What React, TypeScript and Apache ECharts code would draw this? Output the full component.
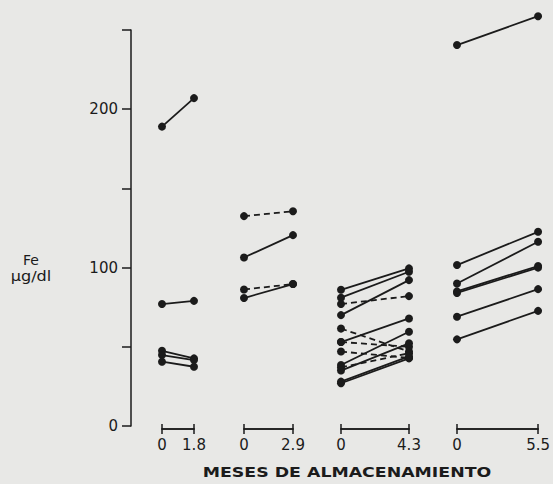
import React, { useEffect, useRef } from "react";
import * as echarts from "echarts";

// Storage months for each group (x-axis bracket end values)
const months = [1.8, 2.9, 4.3, 5.5];

// Serum iron (µg/dl) at month 0 and at end of storage, per group
const g1Before = [189, 77, 47.5, 44.8, 40.6];
const g1After = [207, 79, 42.7, 41.6, 37.4];
const g1Dashed = [false, false, false, false, false];

const g2Before = [132.5, 106.4, 86.2, 80.8];
const g2After = [135.6, 120.5, 89.6, 89.6];
const g2Dashed = [true, false, true, false];

const g3Before = [86, 81, 77, 70, 61.5, 53, 53, 47, 38.5, 37, 35, 27, 28];
const g3After = [99.5, 97.4, 82, 92.1, 47, 67.9, 50, 43, 59.5, 45.9, 52.2, 42.7, 44];
const g3Dashed = [false, false, true, false, true, false, true, true, false, true, false, false, false];

const g4Before = [240.5, 101.6, 90, 85, 84, 69, 54.7];
const g4After = [258.7, 122.6, 116.3, 101, 100, 86.4, 72.7];
const g4Dashed = [false, false, false, false, false, false, false];

const yTicks = [0, 100, 200];

const groups = [
  { before: g1Before, after: g1After, dashed: g1Dashed },
  { before: g2Before, after: g2After, dashed: g2Dashed },
  { before: g3Before, after: g3After, dashed: g3Dashed },
  { before: g4Before, after: g4After, dashed: g4Dashed },
];

const INK = "#1b1b1b";
const FONT = "DejaVu Sans";
const GRID_X = [
  [162, 194],
  [244, 293],
  [341, 409],
  [457, 541],
];
const TOP = 30;
const ZERO_Y = 426;
const Y_AXIS_X = 131;

export default function App() {
  const ref = useRef<HTMLDivElement>(null);

  useEffect(() => {
    if (!ref.current) return;
    const chart = echarts.init(ref.current, undefined, { renderer: "svg" });

    const grid = GRID_X.map(([a, b]) => ({
      left: a,
      width: b - a,
      top: TOP,
      height: ZERO_Y - TOP,
    }));

    const xAxis: any[] = [];
    months.forEach((m, i) => {
      const base = {
        gridIndex: i,
        type: "value",
        position: "bottom",
        min: 0,
        max: m,
        interval: m,
        offset: 3,
        axisLine: { show: true, onZero: false, lineStyle: { color: INK, width: 1.5 } },
        splitLine: { show: false },
      };
      xAxis.push({
        ...base,
        axisTick: { show: true, inside: true, length: 5, lineStyle: { color: INK, width: 1.5 } },
        axisLabel: {
          show: true,
          margin: 8,
          fontSize: 15,
          color: INK,
          fontFamily: FONT,
          formatter: (v: number) => String(v),
        },
      });
      xAxis.push({
        ...base,
        axisTick: { show: true, inside: false, length: 5, lineStyle: { color: INK, width: 1.5 } },
        axisLabel: { show: false },
      });
    });

    const yAxis = months.map((_, i) => ({
      gridIndex: i,
      type: "value",
      position: "left",
      min: 0,
      max: 250,
      interval: 50,
      show: i === 0,
      offset: i === 0 ? GRID_X[0][0] - Y_AXIS_X : 0,
      axisLine: { show: true, onZero: false, lineStyle: { color: INK, width: 1.5 } },
      axisTick: { show: true, length: 9, lineStyle: { color: INK, width: 1.5 } },
      axisLabel: {
        show: true,
        margin: 13,
        fontSize: 15,
        color: INK,
        fontFamily: FONT,
        formatter: (v: number) => (yTicks.includes(v) ? String(v) : ""),
      },
      splitLine: { show: false },
    }));

    const series: any[] = [];
    groups.forEach((g, gi) => {
      g.before.forEach((b, k) => {
        series.push({
          type: "line",
          xAxisIndex: gi * 2,
          yAxisIndex: gi,
          data: [
            [0, b],
            [months[gi], g.after[k]],
          ],
          symbol: "circle",
          symbolSize: 8,
          clip: false,
          silent: true,
          itemStyle: { color: INK },
          lineStyle: { color: INK, width: 1.8, type: g.dashed[k] ? [6, 4] : "solid" },
        });
      });
    });

    chart.setOption({
      animation: false,
      backgroundColor: "#e8e8e6",
      grid,
      xAxis,
      yAxis,
      series,
      graphic: [
        {
          type: "text",
          x: 31,
          y: 260,
          style: {
            text: "Fe",
            fill: INK,
            font: `14px "${FONT}"`,
            textAlign: "center",
            textVerticalAlign: "middle",
          },
        },
        {
          type: "text",
          x: 31,
          y: 276,
          scaleX: 1.15,
          style: {
            text: "µg/dl",
            fill: INK,
            font: `14px "${FONT}"`,
            textAlign: "center",
            textVerticalAlign: "middle",
          },
        },
        {
          type: "text",
          x: 347,
          y: 472,
          scaleX: 1.24,
          style: {
            text: "MESES DE ALMACENAMIENTO",
            fill: INK,
            font: `bold 14px "${FONT}"`,
            textAlign: "center",
            textVerticalAlign: "middle",
          },
        },
      ],
    });

    return () => chart.dispose();
  }, []);

  return (
    <div
      ref={ref}
      style={{ position: "absolute", left: 0, top: 0, width: 553, height: 484 }}
    />
  );
}
